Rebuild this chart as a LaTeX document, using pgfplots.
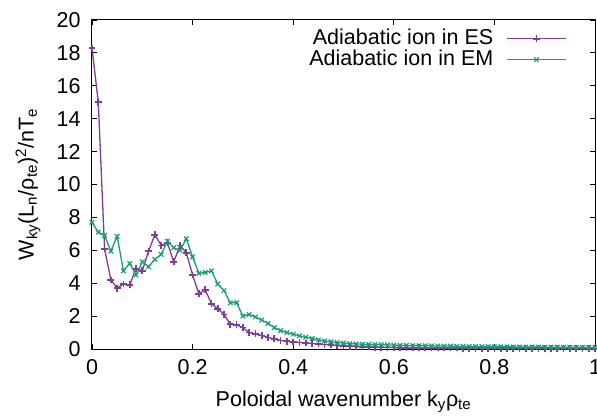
\documentclass[border=0pt]{standalone}
\usepackage{fontspec}
\setmainfont{Liberation Sans}
\usepackage{pgfplots}
\usepackage{pgfplotstable}
\pgfplotsset{compat=1.18}
\definecolor{esc}{RGB}{126,62,152}
\definecolor{emc}{RGB}{26,158,119}

\pgfplotstableread{
x es em
0 18.3 7.7
0.0125 15.0 7.1
0.025 6.1 6.9
0.0375 4.2 5.95
0.05 3.7 6.85
0.0625 3.95 4.75
0.075 3.9 5.2
0.0875 4.88 4.5
0.1 4.76 5.3
0.1125 5.95 5.0
0.125 6.95 5.45
0.1375 6.3 5.75
0.15 6.45 6.55
0.1625 5.3 6.15
0.175 6.3 6.0
0.1875 5.85 6.7
0.2 4.5 5.6
0.2125 3.35 4.6
0.225 3.6 4.65
0.2375 2.75 4.75
0.25 2.45 3.95
0.2625 2.1 3.55
0.275 1.5 2.8
0.2875 1.47 2.82
0.3 1.3 2.0
0.3125 1.0 2.1
0.325 0.92 1.95
0.3375 0.82 1.76
0.35 0.7 1.55
0.3625 0.62 1.3
0.375 0.52 1.12
0.3875 0.47 1.0
0.4 0.43 0.9
0.4125 0.40 0.8
0.425 0.37 0.72
0.4375 0.34 0.64
0.45 0.30 0.56
0.4625 0.27 0.49
0.475 0.24 0.44
0.4875 0.21 0.40
0.5 0.19 0.36
0.5125 0.17 0.33
0.525 0.15 0.31
0.5375 0.13 0.29
0.55 0.12 0.28
0.5625 0.11 0.27
0.575 0.10 0.26
0.5875 0.09 0.25
0.6 0.085 0.24
0.6125 0.08 0.23
0.625 0.075 0.22
0.6375 0.07 0.21
0.65 0.068 0.20
0.6625 0.065 0.195
0.675 0.062 0.19
0.6875 0.06 0.185
0.7 0.058 0.18
0.7125 0.056 0.175
0.725 0.055 0.17
0.7375 0.054 0.165
0.75 0.053 0.16
0.7625 0.052 0.155
0.775 0.051 0.15
0.7875 0.05 0.145
0.8 0.049 0.14
0.8125 0.048 0.135
0.825 0.047 0.13
0.8375 0.046 0.127
0.85 0.045 0.124
0.8625 0.044 0.121
0.875 0.043 0.118
0.8875 0.042 0.115
0.9 0.041 0.112
0.9125 0.040 0.11
0.925 0.039 0.108
0.9375 0.038 0.106
0.95 0.037 0.104
0.9625 0.036 0.102
0.975 0.036 0.10
0.9875 0.035 0.098
1.0 0.035 0.096
}\datatable

\begin{document}
\fontsize{21.5bp}{25bp}\selectfont
\begin{tikzpicture}
\begin{axis}[
  width=503bp, height=329bp, scale only axis,
  xmin=0, xmax=1, ymin=0, ymax=20,
  xtick={0,0.2,0.4,0.6,0.8,1},
  xticklabels={0,0.2,0.4,0.6,0.8,1},
  ytick={0,2,4,6,8,10,12,14,16,18,20},
  tick align=inside,
  major tick length=5bp,
  minor tick num=0,
  axis line style={line width=1bp, black},
  every tick/.style={black, line width=0.8bp},
  /pgf/number format/assume math mode=true,
  tick label style={font=\fontsize{21.5bp}{25bp}\selectfont},
  xticklabel style={yshift=-3bp},
  yticklabel style={xshift=-4bp},
  label style={font=\fontsize{21.5bp}{25bp}\selectfont},
  xlabel={Poloidal wavenumber k\textsubscript{y}ρ\textsubscript{te}},
  ylabel={W\textsubscript{ky}(L\textsubscript{n}/ρ\textsubscript{te})\textsuperscript{2}/nT\textsubscript{e}},
  xlabel style={at={(axis description cs:0.5,-0.161)}, anchor=center},
  ylabel style={at={(axis description cs:-0.127,0.5)}, anchor=center},
  legend plot pos=right,
  legend cell align=right,
  legend style={at={(rel axis cs:0.944,0.975)}, anchor=north east, draw=none, fill=none,
    font=\fontsize{21.5bp}{25bp}\selectfont, row sep=0pt, inner sep=0pt,
    nodes={inner sep=1bp},
    /tikz/every odd column/.append style={column sep=12bp}},
  legend image code/.code={\draw[mark repeat=2,mark phase=2,#1] plot coordinates {(0bp,0bp) (29.5bp,0bp) (59bp,0bp)};},
  clip=false,
]
\addplot[color=esc, line width=1.3bp, mark=+, mark size=3.4bp, mark options={line width=1.7bp}] table[x=x,y=es] {\datatable};
\addlegendentry{Adiabatic ion in ES}
\addplot[color=emc, line width=1.3bp, mark=x, mark size=3.2bp, mark options={line width=1.2bp}] table[x=x,y=em] {\datatable};
\addlegendentry{Adiabatic ion in EM}
\coordinate (ll) at (rel axis cs:0,0);
\coordinate (ur) at (rel axis cs:1,1);
\end{axis}
\pgfresetboundingbox
\useasboundingbox ([xshift=-92bp,yshift=-69bp]ll) rectangle ([xshift=2bp,yshift=20bp]ur);
\end{tikzpicture}
\end{document}
